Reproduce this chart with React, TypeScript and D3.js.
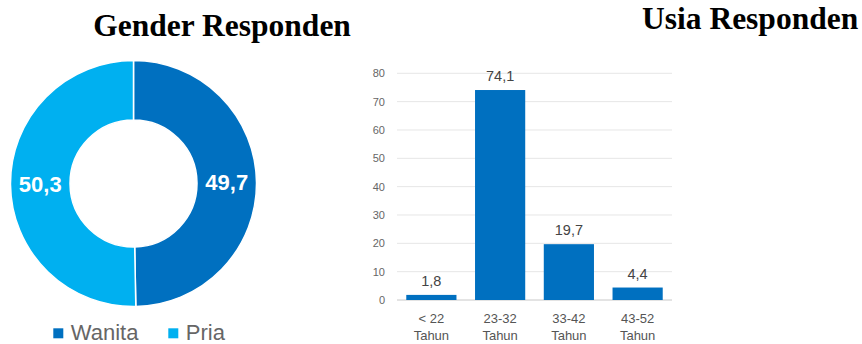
import React from "react";
import * as d3 from "d3";

const genderLabels = ["Wanita", "Pria"];
const genderValues = [49.7, 50.3];
const genderText = ["49,7", "50,3"];
const genderColors = ["#0070c0", "#00b0f0"];

const ageLine1 = ["< 22", "23-32", "33-42", "43-52"];
const ageLine2 = ["Tahun", "Tahun", "Tahun", "Tahun"];
const ageValues = [1.8, 74.1, 19.7, 4.4];
const ageText = ["1,8", "74,1", "19,7", "4,4"];
const yTicks = [0, 10, 20, 30, 40, 50, 60, 70, 80];

export default function App() {
  const cx = 133.5, cy = 183.5, rOut = 123, rIn = 63.5;
  const pie = d3.pie<number>().sort(null).value((d) => d);
  const arcs = pie(genderValues);
  const arc = d3.arc<d3.PieArcDatum<number>>().innerRadius(rIn).outerRadius(rOut);

  const x = d3.scaleBand<number>()
    .domain(ageValues.map((_, i) => i))
    .range([397, 672])
    .paddingInner(0.27)
    .paddingOuter(0.135);
  const y = d3.scaleLinear().domain([0, 80]).range([300, 73.3]);

  const sans = "Arial, 'Liberation Sans', sans-serif";
  const legendX = [53.3, 168.3];

  return (
    <div style={{ position: "absolute", left: 0, top: 0 }}>
      <svg width={862} height={344} style={{ display: "block", background: "#fff" }}>
        <text x={93.3} y={36} fontFamily="'Liberation Serif', 'Times New Roman', serif" fontWeight="bold" fontSize={31.5} fill="#000">Gender Responden</text>
        <text x={642} y={28.5} fontFamily="'Liberation Serif', 'Times New Roman', serif" fontWeight="bold" fontSize={31.5} fill="#000">Usia Responden</text>

        <g transform={`translate(${cx},${cy})`}>
          {arcs.map((a, i) => (
            <path key={i} d={arc(a) || ""} fill={genderColors[i]} stroke="#fff" strokeWidth={1.5} />
          ))}
          {arcs.map((a, i) => {
            const [lx, ly] = arc.centroid(a);
            return (
              <text key={"l" + i} x={lx} y={ly} textAnchor="middle" dominantBaseline="central" fontFamily={sans} fontWeight="bold" fontSize={22} fill="#fff">{genderText[i]}</text>
            );
          })}
        </g>

        {genderLabels.map((g, i) => (
          <g key={g}>
            <rect x={legendX[i]} y={328.3} width={10} height={10} fill={genderColors[i]} />
            <text x={legendX[i] + 17.5} y={339.5} fontFamily={sans} fontSize={22} fill="#666">{g}</text>
          </g>
        ))}

        {yTicks.map((t) => (
          <g key={t}>
            <line x1={397} x2={672} y1={y(t)} y2={y(t)} stroke={t === 0 ? "#c8c8c8" : "#e6e6e6"} strokeWidth={1} />
            <text x={385} y={y(t)} textAnchor="end" dominantBaseline="central" fontFamily={sans} fontSize={11} fill="#666">{t}</text>
          </g>
        ))}

        {ageValues.map((v, i) => (
          <g key={i}>
            <rect x={x(i)} y={y(v)} width={x.bandwidth()} height={y(0) - y(v)} fill="#0070c0" />
            <text x={(x(i) as number) + x.bandwidth() / 2} y={y(v) - 9} textAnchor="middle" fontFamily={sans} fontSize={14.5} fill="#444">{ageText[i]}</text>
            <text x={(x(i) as number) + x.bandwidth() / 2} y={322.5} textAnchor="middle" fontFamily={sans} fontSize={13} fill="#555">{ageLine1[i]}</text>
            <text x={(x(i) as number) + x.bandwidth() / 2} y={339.5} textAnchor="middle" fontFamily={sans} fontSize={13} fill="#555">{ageLine2[i]}</text>
          </g>
        ))}
      </svg>
    </div>
  );
}
